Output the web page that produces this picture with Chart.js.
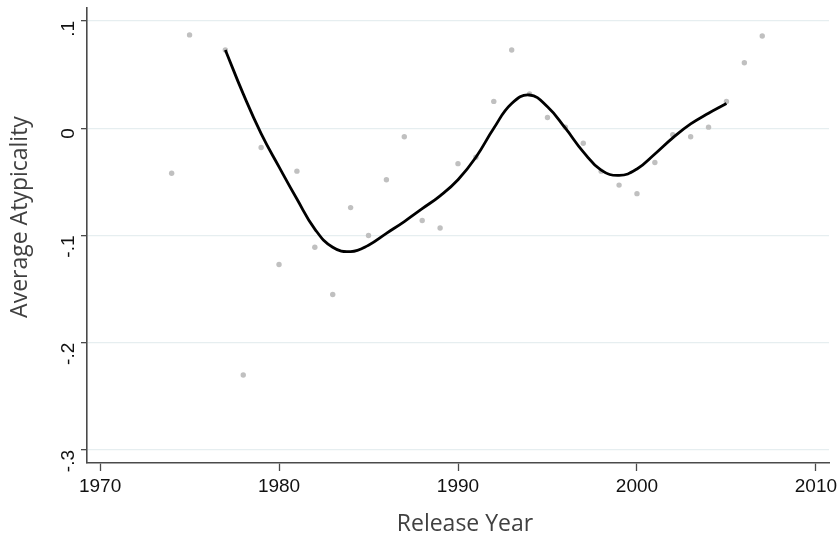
<!DOCTYPE html>
<html>
<head>
<meta charset="utf-8">
<script src="https://cdn.jsdelivr.net/npm/chart.js@4.4.1/dist/chart.umd.min.js"></script>
<style>
  html, body { margin: 0; padding: 0; background: #fff; }
  #wrap { width: 840px; height: 537px; }
</style>
</head>
<body>
<div id="wrap"><canvas id="chart"></canvas></div>
<script>
// scatter of yearly averages
const pointYears = [1974, 1975, 1977, 1978, 1979, 1980, 1981, 1982, 1983, 1984, 1985, 1986, 1987, 1988, 1989,
  1990, 1991, 1992, 1993, 1994, 1995, 1996, 1997, 1998, 1999, 2000, 2001, 2002, 2003, 2004, 2005, 2006, 2007];
const pointValues = [-0.042, 0.087, 0.073, -0.230, -0.018, -0.127, -0.040, -0.111, -0.155, -0.074, -0.100, -0.048, -0.008, -0.086, -0.093,
  -0.033, -0.027, 0.025, 0.073, 0.032, 0.010, 0.001, -0.014, -0.040, -0.053, -0.061, -0.032, -0.006, -0.008, 0.001, 0.025, 0.061, 0.086];

// smoothed trend
const curveYears = [1977, 1978, 1979, 1980, 1981, 1982, 1983, 1984, 1985, 1986, 1987, 1988, 1989, 1990, 1991,
  1992, 1993, 1994, 1995, 1996, 1997, 1998, 1999, 2000, 2001, 2002, 2003, 2004, 2005];
const curveValues = [0.073, 0.032, -0.005, -0.036, -0.066, -0.094, -0.111, -0.115, -0.109, -0.098, -0.087, -0.075, -0.063, -0.048, -0.027,
  0.000, 0.023, 0.031, 0.020, 0.000, -0.022, -0.039, -0.044, -0.038, -0.024, -0.009, 0.004, 0.014, 0.023];

// axes
const xTicks = [1970, 1980, 1990, 2000, 2010];
const yTicks = [-0.3, -0.2, -0.1, 0, 0.1];
const yTickLabels = ['-.3', '-.2', '-.1', '0', '.1'];
const xTitle = 'Release Year';
const yTitle = 'Average Atypicality';

const tickFont = { family: '"Liberation Sans", Arial, sans-serif', size: 19 };
const axisColor = '#4a4a4a';

// axis titles drawn by hand so they can sit where Stata puts them
const titlePlugin = {
  id: 'axisTitles',
  afterDraw(chart) {
    const ctx = chart.ctx;
    const area = chart.chartArea;
    ctx.save();
    ctx.fillStyle = '#404040';
    ctx.font = '23px "Open Sans", Lato, sans-serif';
    ctx.textAlign = 'center';
    ctx.textBaseline = 'middle';
    ctx.fillText(xTitle, (area.left + area.right) / 2 + 7, 524);
    ctx.translate(20, 217);
    ctx.rotate(-Math.PI / 2);
    ctx.fillText(yTitle, 0, 0);
    ctx.restore();
  }
};

const ctx = document.getElementById('chart').getContext('2d');
const chart = new Chart(ctx, {
  type: 'scatter',
  data: {
    datasets: [
      {
        type: 'line',
        data: curveYears.map((y, i) => ({ x: y, y: curveValues[i] })),
        borderColor: '#000',
        borderWidth: 2.8,
        pointRadius: 0,
        tension: 0.45,
        fill: false
      },
      {
        data: pointYears.map((y, i) => ({ x: y, y: pointValues[i] })),
        backgroundColor: '#c0c0c0',
        borderWidth: 0,
        pointRadius: 2.7
      }
    ]
  },
  options: {
    responsive: true,
    maintainAspectRatio: false,
    animation: false,
    layout: { padding: { top: 8, right: 11, left: 0, bottom: 0 } },
    plugins: { legend: { display: false }, tooltip: { enabled: false } },
    scales: {
      x: {
        type: 'linear',
        min: 1969.27,
        max: 2010.73,
        afterBuildTicks: scale => { scale.ticks = xTicks.map(v => ({ value: v })); },
        afterFit: scale => { scale.height = 74; scale.paddingLeft = 0; scale.paddingRight = 0; },
        ticks: { font: tickFont, color: '#111', padding: 4, maxRotation: 0, callback: v => String(v) },
        grid: { drawOnChartArea: false, tickLength: 8, tickColor: axisColor, tickWidth: 1.3 },
        border: { color: axisColor, width: 1.6 }
      },
      y: {
        type: 'linear',
        min: -0.3121,
        max: 0.1121,
        afterBuildTicks: scale => { scale.ticks = yTicks.map(v => ({ value: v })); },
        afterFit: scale => { scale.width = 87; scale.paddingTop = 0; scale.paddingBottom = 0; },
        ticks: {
          font: tickFont, color: '#111', padding: 12, minRotation: 90, maxRotation: 90,
          callback: v => yTickLabels[yTicks.findIndex(t => Math.abs(t - v) < 1e-6)]
        },
        grid: { color: '#e6eef0', lineWidth: 1.3, tickLength: 6, tickColor: axisColor, tickWidth: 1.3 },
        border: { color: axisColor, width: 1.6 }
      }
    }
  },
  plugins: [titlePlugin]
});
</script>
</body>
</html>
